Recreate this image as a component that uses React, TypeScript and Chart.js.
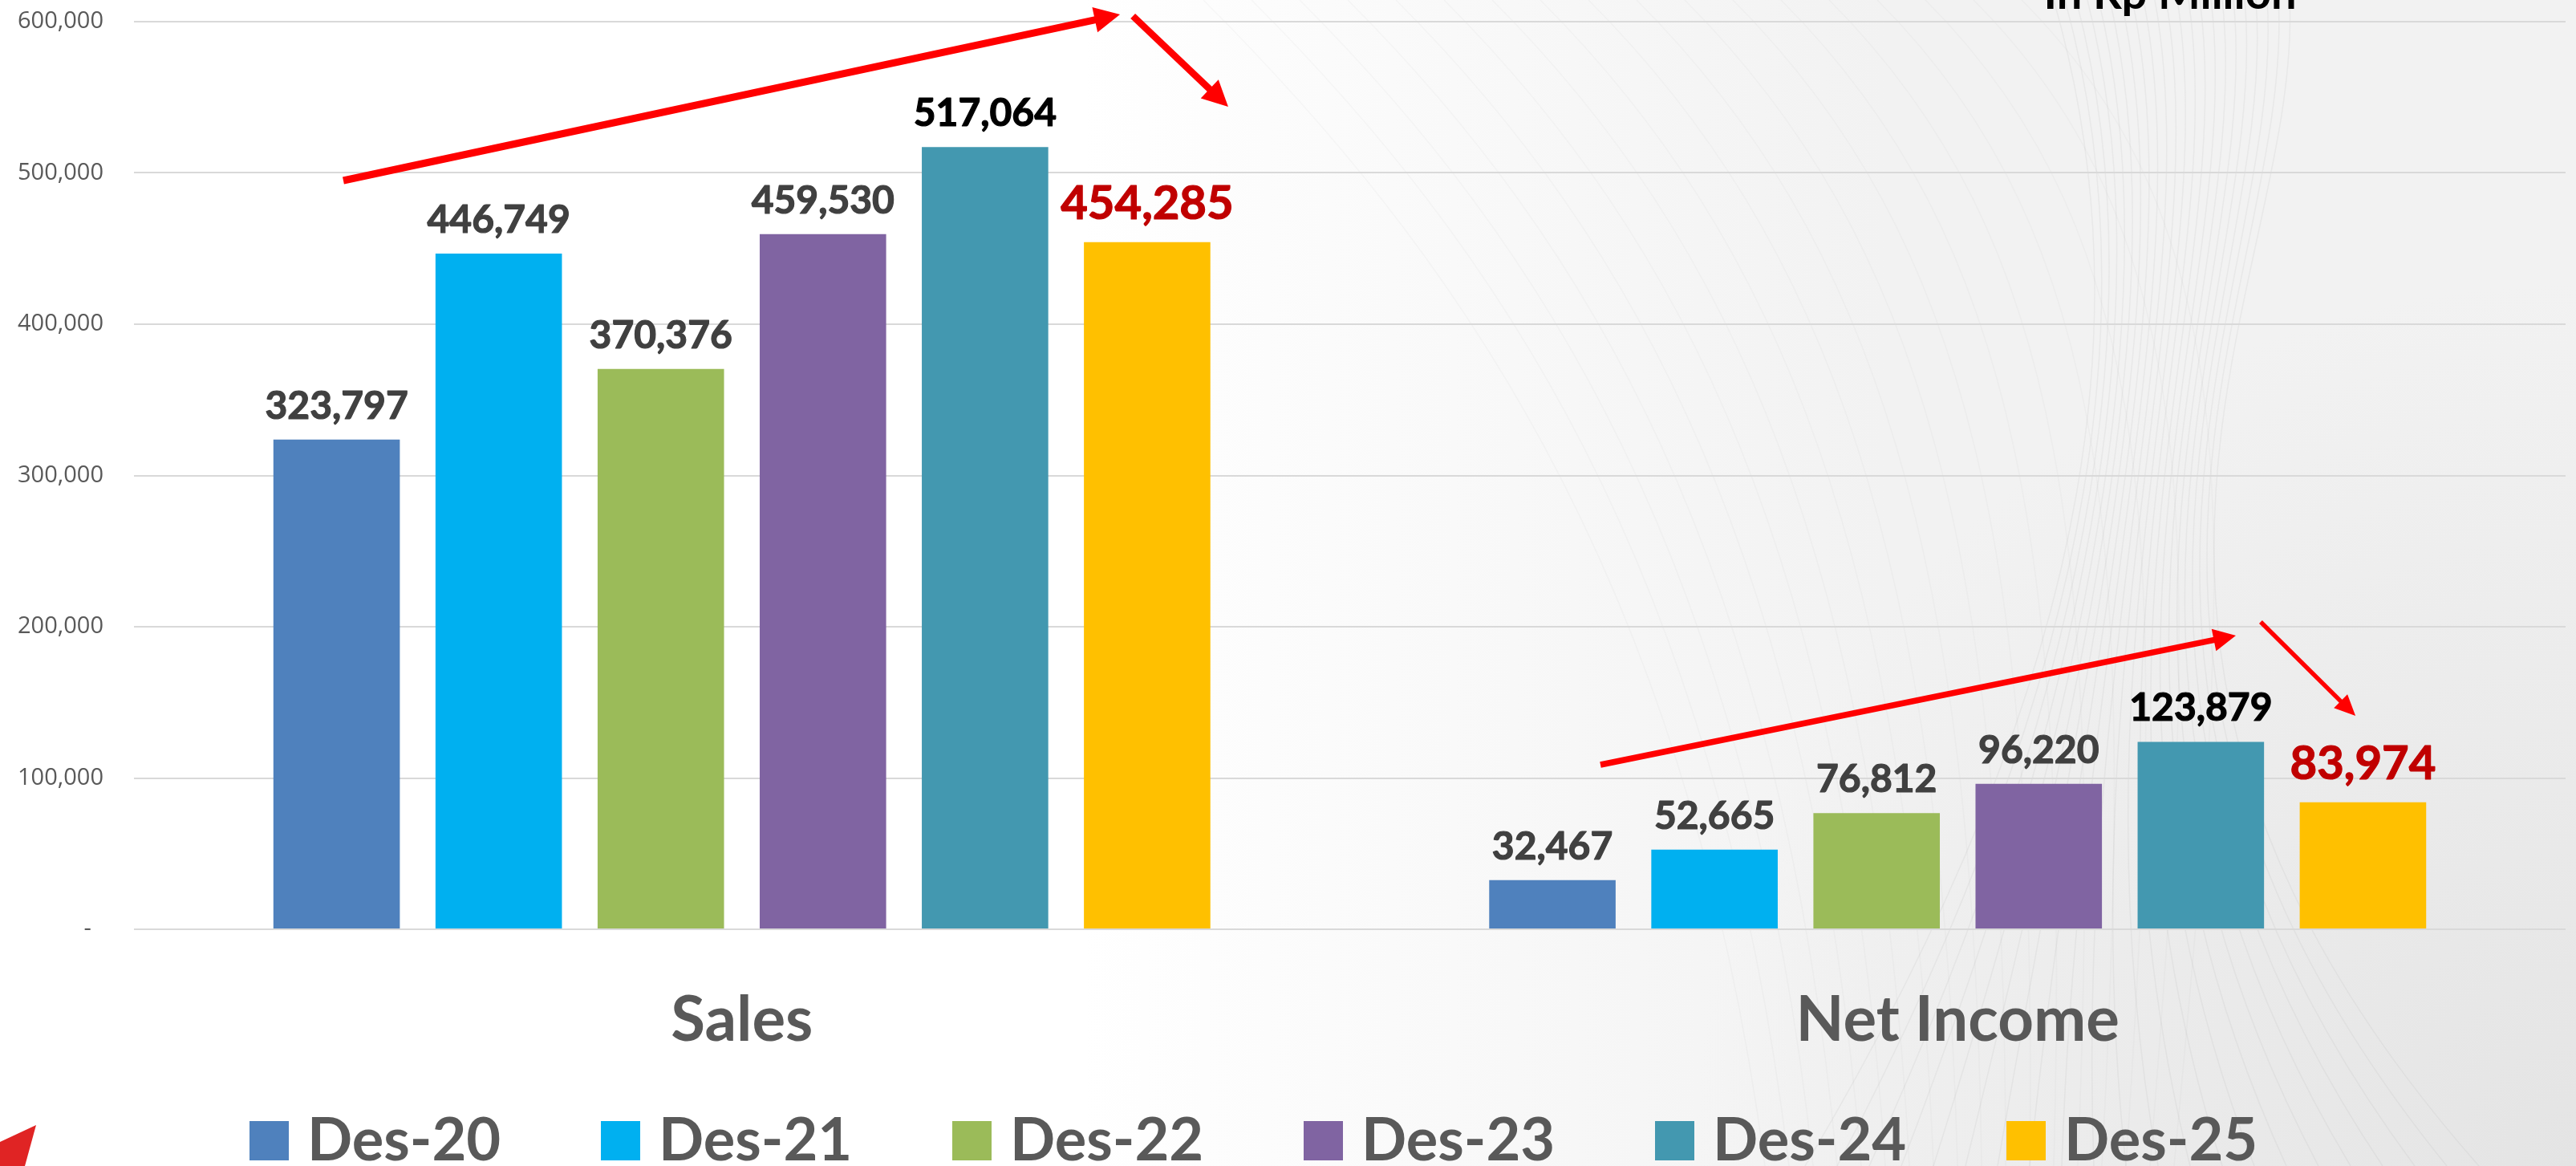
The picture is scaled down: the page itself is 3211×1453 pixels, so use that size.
import React, { useEffect, useRef } from "react";
import { Chart, registerables } from "chart.js";

Chart.register(...registerables);

// ---- data ----
const CATEGORIES = ["Sales", "Net Income"];
const SERIES_LABELS = ["Des-20", "Des-21", "Des-22", "Des-23", "Des-24", "Des-25"];
const DES_20 = [323797, 32467];
const DES_21 = [446749, 52665];
const DES_22 = [370376, 76812];
const DES_23 = [459530, 96220];
const DES_24 = [517064, 123879];
const DES_25 = [454285, 83974];
const SERIES_VALUES = [DES_20, DES_21, DES_22, DES_23, DES_24, DES_25];
const Y_MIN = 0;
const Y_MAX = 600000;
const Y_STEP = 100000;
const UNIT_NOTE = "In Rp Million";

// ---- styles ----
const BAR_COLORS = ["#4F81BD", "#00B0F0", "#9BBB59", "#8064A2", "#4398B0", "#FFC000"];
const LABEL_COLORS = ["#404040", "#404040", "#404040", "#404040", "#000000", "#C00000"];
const LABEL_SIZES = [48, 48, 48, 48, 48, 58];

// trend arrows: [x as fraction of the category axis, y as value]
const ARROWS = [
  { from: [0.0861, 494950], to: [0.4055, 604770], width: 9, head: 32, half: 16 },
  { from: [0.4108, 603710], to: [0.45, 543760], width: 8.5, head: 32, half: 16 },
  { from: [0.6031, 108750], to: [0.8644, 194160], width: 7.5, head: 28, half: 14 },
  { from: [0.8746, 203180], to: [0.9136, 141110], width: 5.5, head: 26, half: 12 },
];

const W = 3211;
const H = 1453;

function fmt(v: number) {
  return v.toLocaleString("en-US");
}

const backgroundPlugin = {
  id: "bg",
  beforeDraw(chart: any) {
    const ctx = chart.ctx as CanvasRenderingContext2D;
    ctx.save();
    ctx.fillStyle = "#ffffff";
    ctx.fillRect(0, 0, W, H);
    const g = ctx.createLinearGradient(1350, 0, 2350, 0);
    g.addColorStop(0, "rgba(242,242,242,0)");
    g.addColorStop(1, "rgba(242,242,242,1)");
    ctx.fillStyle = g;
    ctx.fillRect(1350, 0, W - 1350, H);
    const r = ctx.createRadialGradient(3211, 1453, 0, 3211, 1453, 1100);
    r.addColorStop(0, "rgba(228,228,228,1)");
    r.addColorStop(1, "rgba(228,228,228,0)");
    ctx.fillStyle = r;
    ctx.fillRect(1800, 300, W - 1800, H - 300);
    // faint swoosh lines
    ctx.lineWidth = 1.5;
    for (let i = 0; i < 22; i++) {
      ctx.strokeStyle = "rgba(150,150,150,0.10)";
      ctx.beginPath();
      ctx.moveTo(2560 + i * 14, 0);
      ctx.bezierCurveTo(2660 + i * 10, 350, 2640 - i * 6, 800, 2250 + i * 40, 1453);
      ctx.stroke();
    }
    for (let i = 0; i < 18; i++) {
      ctx.strokeStyle = "rgba(170,170,170,0.07)";
      ctx.beginPath();
      ctx.moveTo(1500 + i * 60, 0);
      ctx.bezierCurveTo(1800 + i * 60, 300, 2100 + i * 40, 700, 2200 + i * 30, 1453);
      ctx.stroke();
    }
    ctx.restore();
  },
};

const valueLabelPlugin = {
  id: "valueLabels",
  afterDatasetsDraw(chart: any) {
    const ctx = chart.ctx as CanvasRenderingContext2D;
    ctx.save();
    ctx.textAlign = "center";
    ctx.textBaseline = "alphabetic";
    ctx.lineJoin = "round";
    chart.data.datasets.forEach((ds: any, di: number) => {
      const meta = chart.getDatasetMeta(di);
      meta.data.forEach((bar: any, i: number) => {
        ctx.font = `bold ${LABEL_SIZES[di]}px Lato`;
        ctx.fillStyle = LABEL_COLORS[di];
        ctx.strokeStyle = LABEL_COLORS[di];
        ctx.lineWidth = 1.2;
        const gap = di === 5 ? 29 : 26;
        const t = fmt(ds.data[i]);
        ctx.fillText(t, bar.x, bar.y - gap);
        ctx.strokeText(t, bar.x, bar.y - gap);
      });
    });
    ctx.restore();
  },
};

const decorPlugin = {
  id: "decor",
  afterDraw(chart: any) {
    const ctx = chart.ctx as CanvasRenderingContext2D;
    const xs = chart.scales.x;
    const ys = chart.scales.y;
    ctx.save();
    // arrows
    ARROWS.forEach((a) => {
      const x1 = xs.getPixelForDecimal(a.from[0]);
      const y1 = ys.getPixelForValue(a.from[1]);
      const x2 = xs.getPixelForDecimal(a.to[0]);
      const y2 = ys.getPixelForValue(a.to[1]);
      const ang = Math.atan2(y2 - y1, x2 - x1);
      const bx = x2 - a.head * Math.cos(ang);
      const by = y2 - a.head * Math.sin(ang);
      ctx.strokeStyle = "#FF0000";
      ctx.fillStyle = "#FF0000";
      ctx.lineWidth = a.width;
      ctx.lineCap = "butt";
      ctx.beginPath();
      ctx.moveTo(x1, y1);
      ctx.lineTo(bx + 2 * Math.cos(ang), by + 2 * Math.sin(ang));
      ctx.stroke();
      ctx.beginPath();
      ctx.moveTo(x2, y2);
      ctx.lineTo(bx + a.half * Math.sin(ang), by - a.half * Math.cos(ang));
      ctx.lineTo(bx - a.half * Math.sin(ang), by + a.half * Math.cos(ang));
      ctx.closePath();
      ctx.fill();
    });
    // unit note (cut at the top edge)
    ctx.font = "bold 56px Lato";
    ctx.fillStyle = "#000000";
    ctx.textAlign = "center";
    ctx.textBaseline = "alphabetic";
    ctx.fillText(UNIT_NOTE, 2705, 11);
    // legend
    const boxX0 = 311;
    const step = 438;
    const box = 49;
    const baseY = 1446;
    ctx.font = "bold 74px Lato";
    ctx.textAlign = "left";
    chart.data.datasets.forEach((ds: any, i: number) => {
      const x = boxX0 + i * step;
      ctx.fillStyle = ds.backgroundColor;
      ctx.fillRect(x, baseY - box, box, box);
      ctx.fillStyle = "#595959";
      ctx.fillText(ds.label, x + 72, baseY);
    });
    // corner logo fragment
    ctx.fillStyle = "#E02424";
    ctx.beginPath();
    ctx.moveTo(0, 1423);
    ctx.lineTo(45, 1402);
    ctx.lineTo(31, 1453);
    ctx.lineTo(0, 1453);
    ctx.closePath();
    ctx.fill();
    ctx.restore();
  },
};

export default function App() {
  const ref = useRef<HTMLCanvasElement | null>(null);
  useEffect(() => {
    document.body.style.margin = "0";
    const canvas = ref.current!;
    const chart = new Chart(canvas, {
      type: "bar",
      data: {
        labels: CATEGORIES,
        datasets: SERIES_LABELS.map((label, i) => ({
          label,
          data: SERIES_VALUES[i],
          backgroundColor: BAR_COLORS[i],
          borderWidth: 0,
          categoryPercentage: 0.8,
          barPercentage: 0.78,
        })),
      },
      options: {
        responsive: false,
        animation: false,
        devicePixelRatio: 1,
        layout: { padding: { top: 27, right: 13, left: 0, bottom: 0 } },
        plugins: {
          legend: { display: false },
          tooltip: { enabled: false },
          title: { display: false },
        },
        scales: {
          x: {
            grid: { display: false, drawTicks: false },
            border: { display: false },
            ticks: {
              color: "#595959",
              font: { family: "Lato", size: 78, weight: "bold" },
              padding: 67,
              maxRotation: 0,
              autoSkip: false,
            },
            afterFit: (s: any) => {
              s.height = 295;
              s.paddingLeft = 0;
              s.paddingRight = 0;
            },
          },
          y: {
            min: Y_MIN,
            max: Y_MAX,
            grid: { color: "#D9D9D9", lineWidth: 2, drawTicks: false },
            border: { display: false },
            ticks: {
              stepSize: Y_STEP,
              color: "#595959",
              font: { family: "'Open Sans'", size: 29 },
              padding: 38,
              callback: (v: any) => (Number(v) === 0 ? "-  " : fmt(Number(v))),
            },
            afterFit: (s: any) => {
              s.width = 167;
              s.paddingTop = 0;
              s.paddingBottom = 0;
            },
          },
        },
      },
      plugins: [backgroundPlugin, valueLabelPlugin, decorPlugin],
    });
    return () => chart.destroy();
  }, []);
  return (
    <div style={{ position: "absolute", left: 0, top: 0, width: W, height: H }}>
      <canvas ref={ref} width={W} height={H} style={{ width: W, height: H, display: "block" }} />
    </div>
  );
}
